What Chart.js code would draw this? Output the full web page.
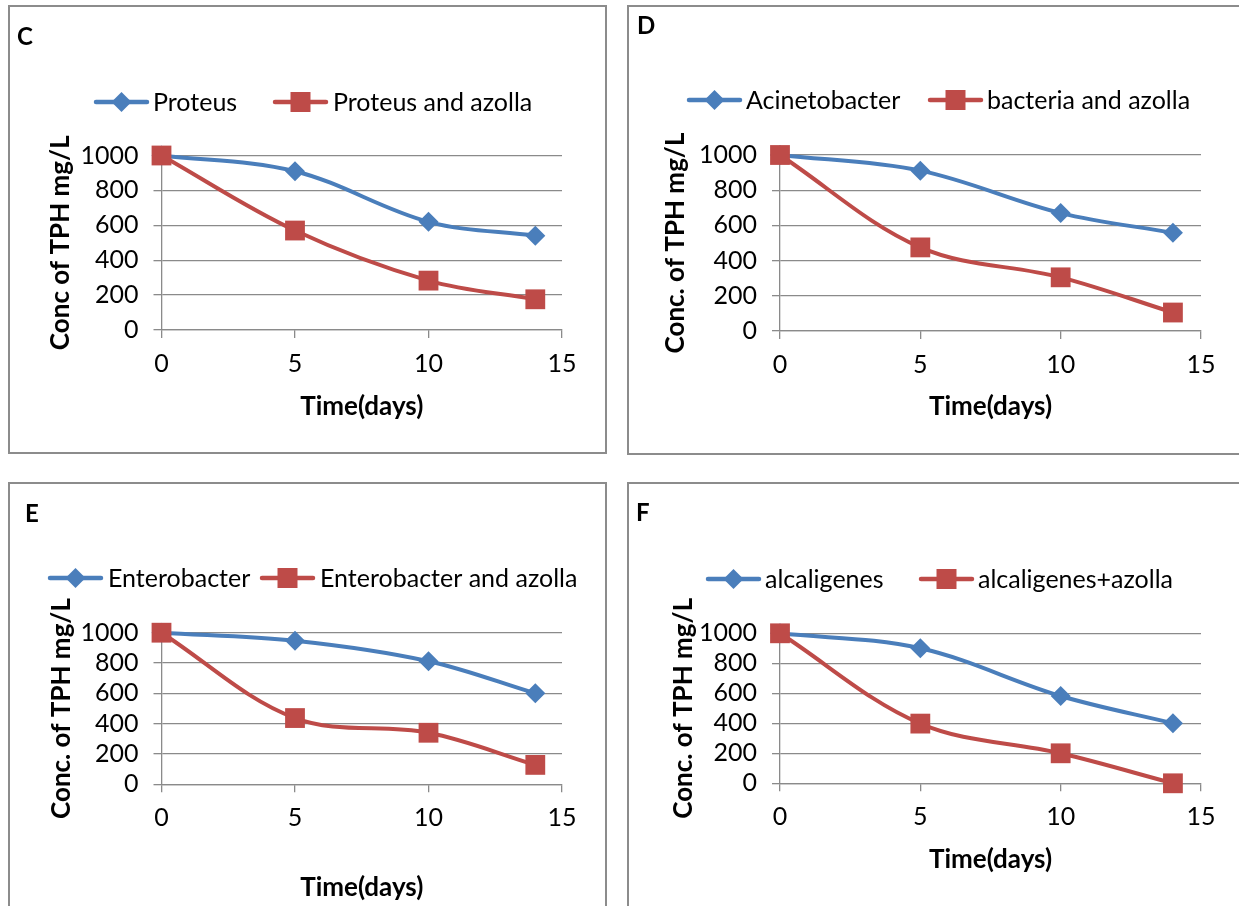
<!DOCTYPE html>
<html><head><meta charset="utf-8">
<script src="https://cdn.jsdelivr.net/npm/chart.js@4.4.1/dist/chart.umd.min.js"></script>
<style>
html,body{margin:0;padding:0;background:#fff;width:1239px;height:906px;overflow:hidden;position:relative}
.wrap{position:absolute}
.frame{position:absolute;box-sizing:border-box;border:2px solid #8c8c8c;pointer-events:none}
</style></head><body>
<script>
// ---- data ----
const days = [0, 5, 10, 14];
const xTicks = [0, 5, 10, 15];
const yTicks = [0, 200, 400, 600, 800, 1000];
const proteus = [1000, 910, 620, 540];
const proteusAzolla = [1000, 570, 283, 176];
const acinetobacter = [1000, 911, 670, 558];
const bacteriaAzolla = [1000, 475, 305, 105];
const enterobacter = [1000, 947, 812, 600];
const enterobacterAzolla = [1000, 437, 340, 128];
const alcaligenes = [1000, 900, 582, 400];
const alcaligenesAzolla = [1000, 398, 200, 0];
const panelLetters = ['C', 'D', 'E', 'F'];
const seriesNames = [
  ['Proteus', 'Proteus and azolla'],
  ['Acinetobacter', 'bacteria and azolla'],
  ['Enterobacter', 'Enterobacter and azolla'],
  ['alcaligenes', 'alcaligenes+azolla']
];
const yTitles = ['Conc of TPH mg/L', 'Conc. of TPH mg/L', 'Conc. of TPH mg/L', 'Conc. of TPH mg/L'];
const xTitle = 'Time(days)';
const blueSeries = [proteus, acinetobacter, enterobacter, alcaligenes];
const redSeries = [proteusAzolla, bacteriaAzolla, enterobacterAzolla, alcaligenesAzolla];

// ---- layout / style (page coordinates) ----
const BLUE = '#4A7EBB', RED = '#BE4B48', GRID = '#8a8a8a';
const FONT = "Lato, 'Open Sans', sans-serif";
const TICK_SIZE = 25, TITLE_SIZE = 26, LEGEND_SIZE = 25, LETTER_SIZE = 24;
const layouts = [
  {box:[8,5,599,449],  plot:[161.5,562,155.5,330],  yTitleX:61,  xTitleY:407, letter:[17,37],  legendY:102, legend:[[94,153],[273,333]]},
  {box:[627,5,620,450], plot:[780,1201,155,331],    yTitleX:676, xTitleY:407, letter:[637,26], legendY:100, legend:[[687,746],[928,987]]},
  {box:[8,482,599,440], plot:[161.5,562,632.7,784.3], yTitleX:62, xTitleY:888, letter:[25,514], legendY:578, legend:[[48,108],[260,320]]},
  {box:[627,482,620,440], plot:[780,1201,633.3,783.3], yTitleX:684, xTitleY:860, letter:[636,513], legendY:579, legend:[[706,765],[919,978]]}
];

Chart.defaults.font.family = FONT;
Chart.defaults.color = '#000';

function drawMarker(ctx, type, x, y, color) {
  ctx.save();
  ctx.fillStyle = color;
  ctx.beginPath();
  if (type === 'diamond') {
    ctx.moveTo(x, y - 10); ctx.lineTo(x + 10, y); ctx.lineTo(x, y + 10); ctx.lineTo(x - 10, y);
  } else {
    ctx.rect(x - 10, y - 10, 20, 20);
  }
  ctx.closePath();
  ctx.fill();
  ctx.restore();
}

const panelDecor = {
  id: 'panelDecor',
  afterDraw(chart, args, opts) {
    const ctx = chart.ctx;
    const L = opts.layout, bx = L.box[0], by = L.box[1];
    ctx.save();
    ctx.fillStyle = '#000';
    ctx.font = `bold ${LETTER_SIZE}px ${FONT}`;
    ctx.textBaseline = 'middle';
    ctx.textAlign = 'left';
    ctx.fillText(opts.letter, L.letter[0] - bx, L.letter[1] - by);
    const ly = L.legendY - by;
    const styles = [[BLUE, 'diamond'], [RED, 'square']];
    opts.names.forEach((name, k) => {
      const x0 = L.legend[k][0] - bx, tx = L.legend[k][1] - bx;
      ctx.strokeStyle = styles[k][0];
      ctx.lineWidth = 4.5;
      ctx.lineCap = 'round';
      ctx.beginPath(); ctx.moveTo(x0 + 2, ly); ctx.lineTo(x0 + 53, ly); ctx.stroke();
      drawMarker(ctx, styles[k][1], x0 + 27.5, ly, styles[k][0]);
      ctx.fillStyle = '#000';
      ctx.font = `${LEGEND_SIZE}px ${FONT}`;
      ctx.fillText(name, tx, ly + 1);
    });
    ctx.restore();
  }
};

function makePanel(i) {
  const L = layouts[i];
  const [bx, by, bw, bh] = L.box;
  const wrap = document.createElement('div');
  wrap.className = 'wrap';
  wrap.style.cssText = `left:${bx}px;top:${by}px;width:${bw}px;height:${bh}px;`;
  const canvas = document.createElement('canvas');
  wrap.appendChild(canvas);
  document.body.appendChild(wrap);
  const frame = document.createElement('div');
  frame.className = 'frame';
  frame.style.cssText = `left:${bx}px;top:${by}px;width:${bw}px;height:${bh}px;`;
  document.body.appendChild(frame);

  const pl = L.plot[0] - bx, pr = L.plot[1] - bx, pt = L.plot[2] - by, pb = L.plot[3] - by;
  const yScaleLeft = L.yTitleX - bx - TITLE_SIZE / 2;
  const yWidth = pl - yScaleLeft;
  const xScaleBottom = L.xTitleY - by + TITLE_SIZE / 2;
  const xHeight = xScaleBottom - pb;

  const toPts = arr => days.map((d, k) => ({x: d, y: arr[k]}));
  new Chart(canvas, {
    type: 'line',
    data: {
      datasets: [
        {label: seriesNames[i][1], data: toPts(redSeries[i]), borderColor: RED, backgroundColor: RED,
         pointStyle: 'rect', pointRadius: 14, pointHoverRadius: 14, pointBorderWidth: 0, borderWidth: 4,
         tension: 0.35, order: 0, clip: false},
        {label: seriesNames[i][0], data: toPts(blueSeries[i]), borderColor: BLUE, backgroundColor: BLUE,
         pointStyle: 'rectRot', pointRadius: 10, pointHoverRadius: 10, pointBorderWidth: 0, borderWidth: 4,
         tension: 0.35, order: 1, clip: false}
      ]
    },
    options: {
      responsive: true, maintainAspectRatio: false, animation: false, devicePixelRatio: 1,
      events: [],
      layout: {padding: {left: yScaleLeft, top: pt, right: bw - pr, bottom: bh - xScaleBottom}},
      plugins: {
        legend: {display: false}, tooltip: {enabled: false},
        panelDecor: {layout: L, letter: panelLetters[i], names: seriesNames[i]}
      },
      scales: {
        x: {
          type: 'linear', min: 0, max: 15,
          afterBuildTicks: s => { s.ticks = xTicks.map(v => ({value: v})); },
          afterFit: s => { s.height = xHeight; },
          grid: {display: true, drawOnChartArea: false, drawTicks: true, tickLength: 8, color: GRID, lineWidth: 1.3},
          border: {display: true, color: GRID, width: 1.3},
          ticks: {font: {size: TICK_SIZE}, color: '#000', padding: 11, maxRotation: 0, autoSkip: false,
                  callback: v => String(v)},
          title: {display: true, text: xTitle, color: '#000', padding: 0,
                  font: {size: TITLE_SIZE, weight: 'bold', lineHeight: 1}}
        },
        y: {
          type: 'linear', min: 0, max: 1000,
          afterBuildTicks: s => { s.ticks = yTicks.map(v => ({value: v})); },
          afterFit: s => { s.width = yWidth; },
          grid: {color: GRID, lineWidth: 1.3, tickLength: 8},
          border: {display: true, color: GRID, width: 1.3},
          ticks: {font: {size: TICK_SIZE}, color: '#000', padding: 15, autoSkip: false,
                  callback: v => String(v)},
          title: {display: true, text: yTitles[i], color: '#000', padding: 0,
                  font: {size: TITLE_SIZE, weight: 'bold', lineHeight: 1}}
        }
      }
    },
    plugins: [panelDecor]
  });
}

for (let i = 0; i < 4; i++) makePanel(i);
</script>
</body></html>
